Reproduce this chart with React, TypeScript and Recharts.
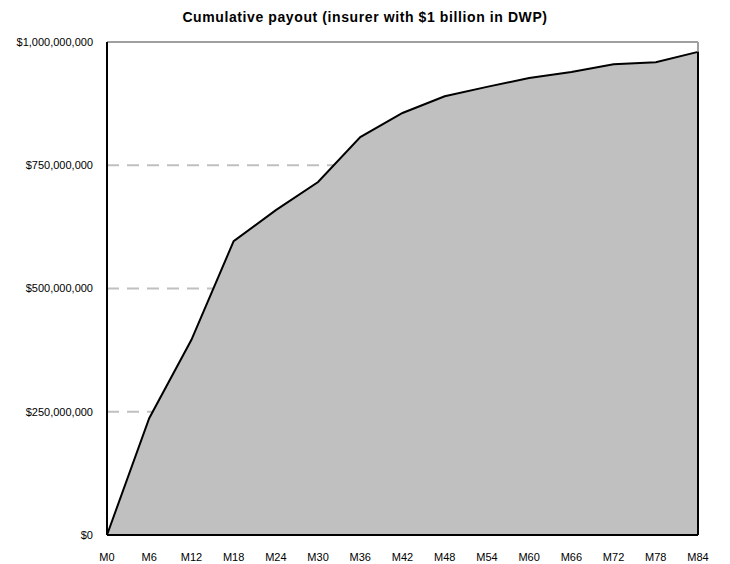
import React from "react";
import {
  AreaChart,
  Area,
  XAxis,
  YAxis,
  CartesianGrid,
  ReferenceLine,
} from "recharts";

const MONTHS = [
  "M0", "M6", "M12", "M18", "M24", "M30", "M36", "M42",
  "M48", "M54", "M60", "M66", "M72", "M78", "M84",
];

// cumulative paid, in dollars
const PAYOUT = [
  0, 237000000, 396000000, 596000000, 659000000, 716000000, 807000000,
  856000000, 890000000, 909000000, 927000000, 939000000, 955000000,
  959000000, 980000000,
];

const Y_TICKS = [0, 250000000, 500000000, 750000000, 1000000000];

const FONT = '"Liberation Sans", Arial, sans-serif';

const data = MONTHS.map((m, i) => ({ month: m, payout: PAYOUT[i] }));

const fmtDollars = (v: number) => "$" + v.toLocaleString("en-US");

export default function App() {
  return (
    <div
      style={{
        position: "absolute",
        left: 0,
        top: 0,
        width: 730,
        height: 564,
        background: "#fff",
        fontFamily: FONT,
      }}
    >
      <div
        style={{
          position: "absolute",
          top: 9,
          left: 0,
          width: 730,
          textAlign: "center",
          fontSize: 14,
          letterSpacing: 0.6,
          fontWeight: "bold",
          color: "#000",
        }}
      >
        Cumulative payout (insurer with $1 billion in DWP)
      </div>
      <AreaChart
        width={730}
        height={564}
        data={data}
        margin={{ top: 42, right: 32, bottom: 0, left: 0 }}
      >
        <CartesianGrid
          horizontal
          vertical={false}
          stroke="#c0c0c0"
          strokeWidth={2}
          strokeDasharray="12 8"
        />
        <XAxis
          dataKey="month"
          height={29}
          tickSize={0}
          tickMargin={18}
          axisLine={{ stroke: "#000", strokeWidth: 2 }}
          tick={{ fill: "#000", fontSize: 11, fontFamily: FONT }}
          interval={0}
        />
        <YAxis
          width={107}
          domain={[0, 1000000000]}
          ticks={Y_TICKS}
          tickFormatter={fmtDollars}
          tickSize={0}
          tickMargin={14}
          axisLine={{ stroke: "#000", strokeWidth: 2 }}
          tick={{ fill: "#000", fontSize: 11, fontFamily: FONT }}
        />
        <ReferenceLine y={1000000000} stroke="#a0a0a0" strokeWidth={2} />
        <ReferenceLine x="M84" stroke="#a0a0a0" strokeWidth={2} />
        <Area
          type="linear"
          dataKey="payout"
          stroke="#000"
          strokeWidth={2}
          fill="#c0c0c0"
          fillOpacity={1}
          isAnimationActive={false}
          dot={false}
          activeDot={false}
        />
        <ReferenceLine
          segment={[
            { x: "M84", y: 0 },
            { x: "M84", y: PAYOUT[PAYOUT.length - 1] },
          ]}
          stroke="#000"
          strokeWidth={2}
        />
      </AreaChart>
    </div>
  );
}
